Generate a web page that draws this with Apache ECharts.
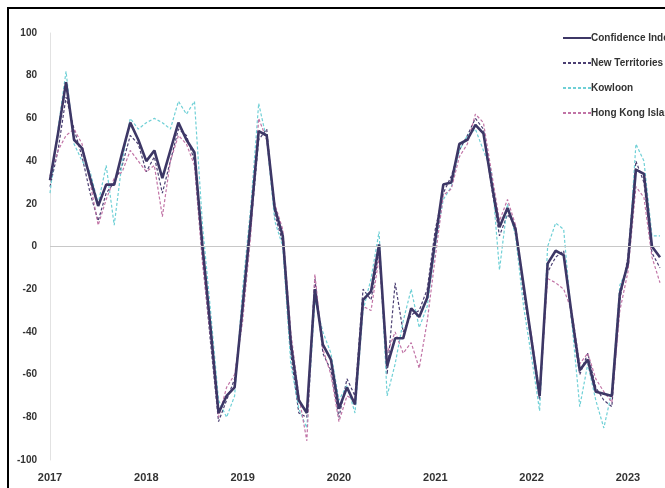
<!DOCTYPE html>
<html>
<head>
<meta charset="utf-8">
<script src="https://cdn.jsdelivr.net/npm/echarts@6/dist/echarts.min.js"></script>
<style>
  html, body { margin: 0; padding: 0; background: #fff; }
  #chart { width: 665px; height: 488px; }
</style>
</head>
<body>
<div id="chart"></div>
<script>
  // monthly data, Jan 2017 .. May 2023
  const years = ['2017', '2018', '2019', '2020', '2021', '2022', '2023']
  const months = []
  years.forEach(y => {
    for (let m = 1; m <= 12; m++) months.push(y + '-' + (m < 10 ? '0' + m : m))
  })
  const categories = months.slice(0, 77)

  const confidenceIndex = [
    31, 53, 77, 50, 46, 32, 19, 29, 29, 44, 58, 50,
    40, 45, 32, 45, 58, 50, 44, 0, -38, -78, -70, -66,
    -28, 12, 54, 52, 18, 5, -45, -72, -78, -20, -46, -53,
    -76, -66, -74, -25, -21, 1, -56, -43, -43, -29, -33, -24,
    3, 29, 30, 48, 50, 57, 53, 30, 9, 18, 8, -18,
    -44, -70, -8, -2, -4, -32, -58, -53, -68, -69, -70, -22,
    -8, 36, 34, 0, -5
  ]
  const newTerritories = [
    28, 45, 70, 55, 42, 25, 12, 25, 30, 38, 52, 48,
    35, 42, 25, 40, 55, 52, 40, -5, -45, -82, -72, -62,
    -30, 8, 50, 55, 15, 2, -50, -78, -80, -15, -50, -58,
    -80, -62, -70, -20, -25, -2, -60, -17, -40, -32, -30, -20,
    8, 25, 33, 45, 52, 60, 55, 28, 5, 15, 10, -22,
    -45, -72, -12, -5, -2, -35, -60, -50, -66, -72, -75, -25,
    -5, 40, 30, -3, -10
  ]
  const kowloon = [
    25, 55, 82, 48, 40, 35, 20, 38, 10, 40, 60, 55,
    58, 60, 58, 55, 68, 62, 68, 10, -30, -72, -80, -70,
    -20, 18, 67, 50, 12, 0, -55, -76, -85, -25, -40, -50,
    -72, -65, -78, -30, -15, 7, -70, -55, -35, -20, -38, -28,
    0, 22, 28, 45, 52, 55, 45, 35, -11, 20, 5, -28,
    -52, -77, 0, 11, 8, -35, -75, -55, -72, -85, -68, -18,
    -10, 48, 40, 5, 5
  ]
  const hongKongIsland = [
    33, 45, 52, 55, 48, 30, 10, 22, 32, 35, 45, 40,
    35, 38, 14, 40, 52, 48, 38, -8, -42, -80, -66, -60,
    -35, 5, 60, 50, 20, 8, -40, -70, -91, -13, -48, -60,
    -82, -70, -72, -28, -30, -5, -50, -40, -50, -45, -57, -35,
    -5, 24, 27, 42, 48, 62, 58, 35, 12, 22, 10, -20,
    -42, -68, -15, -17, -20, -30, -55, -50, -62, -68, -73, -30,
    -12, 28, 23, -5, -17
  ]

  const chart = echarts.init(document.getElementById('chart'))

  const dashed = (name, color, data) => ({
    name: name,
    type: 'line',
    data: data,
    showSymbol: false,
    symbol: 'none',
    z: 2,
    lineStyle: { color: color, width: 1.2, type: [3, 2] },
    itemStyle: { color: color }
  })

  chart.setOption({
    animation: false,
    textStyle: { fontFamily: 'Liberation Sans, Arial, sans-serif' },
    graphic: [{
      type: 'rect',
      shape: { x: 8, y: 8, width: 720, height: 520 },
      style: { fill: 'none', stroke: '#000', lineWidth: 2 },
      silent: true
    }],
    grid: { left: 50, right: 5, top: 33, bottom: 28 },
    legend: {
      orient: 'vertical',
      left: 557,
      top: 28,
      itemGap: 15,
      itemWidth: 28,
      itemHeight: 12,
      itemStyle: { opacity: 0 },
      textStyle: { fontSize: 10, fontWeight: 'bold', color: '#333', padding: [0, 0, 0, -5] },
      data: ['Confidence Index', 'New Territories', 'Kowloon', 'Hong Kong Island']
    },
    xAxis: {
      type: 'category',
      boundaryGap: false,
      data: categories,
      axisLine: { show: false },
      axisTick: { show: false },
      axisLabel: {
        interval: (i) => i % 12 === 0,
        formatter: (v) => v.slice(0, 4),
        margin: 12,
        fontSize: 11,
        fontWeight: 'bold',
        color: '#333'
      },
      splitLine: { show: false }
    },
    yAxis: {
      type: 'value',
      min: -100,
      max: 100,
      interval: 20,
      axisLine: { show: true, lineStyle: { color: '#e2e2e2', width: 1 } },
      axisTick: { show: false },
      axisLabel: { fontSize: 10, fontWeight: 'bold', color: '#333', margin: 13 },
      splitLine: { show: false }
    },
    series: [
      dashed('New Territories', '#4b3f72', newTerritories),
      dashed('Kowloon', '#6fd0d6', kowloon),
      dashed('Hong Kong Island', '#c174a6', hongKongIsland),
      {
        name: 'Confidence Index',
        type: 'line',
        data: confidenceIndex,
        showSymbol: false,
        symbol: 'none',
        z: 3,
        lineStyle: { color: '#3d3766', width: 2.6 },
        itemStyle: { color: '#3d3766' },
        markLine: {
          silent: true,
          symbol: 'none',
          label: { show: false },
          lineStyle: { color: '#c8c8c8', type: 'solid', width: 1 },
          data: [{ yAxis: 0 }]
        }
      }
    ]
  })
</script>
</body>
</html>
